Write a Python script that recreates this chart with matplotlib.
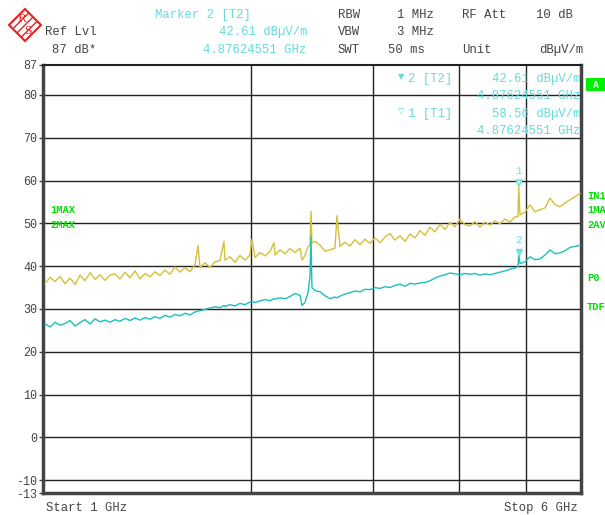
import matplotlib
matplotlib.use('Agg')
import matplotlib.pyplot as plt
from matplotlib.patches import Polygon, Rectangle

# sweep points (GHz) shared by both traces
freq_ghz = [1.007, 1.024, 1.041, 1.058, 1.076, 1.094, 1.113, 1.131, 1.150, 1.170,
            1.189, 1.209, 1.229, 1.250, 1.271, 1.292, 1.314, 1.336, 1.359, 1.381,
            1.405, 1.428, 1.452, 1.476, 1.501, 1.526, 1.552, 1.578, 1.605, 1.632,
            1.659, 1.676, 1.687, 1.715, 1.744, 1.773, 1.803, 1.827, 1.833, 1.864,
            1.895, 1.927, 1.960, 1.992, 2.006, 2.026, 2.060, 2.095, 2.130, 2.158,
            2.165, 2.202, 2.239, 2.276, 2.315, 2.354, 2.369, 2.393, 2.417, 2.433,
            2.441, 2.449, 2.474, 2.516, 2.558, 2.601, 2.644, 2.662, 2.689, 2.734,
            2.780, 2.827, 2.874, 2.922, 2.971, 3.021, 3.072, 3.124, 3.176, 3.229,
            3.284, 3.339, 3.395, 3.452, 3.510, 3.569, 3.629, 3.690, 3.752, 3.815,
            3.879, 3.944, 4.010, 4.077, 4.146, 4.215, 4.286, 4.358, 4.431, 4.506,
            4.581, 4.658, 4.736, 4.816, 4.864, 4.876, 4.897, 4.979, 5.063, 5.148,
            5.234, 5.322, 5.411, 5.502, 5.595, 5.689, 5.784, 5.881, 5.980]

# trace 1: max hold (dBuV/m)
trace1 = [36.0, 37.4, 36.4, 37.6, 35.9, 37.2, 35.7, 37.9, 36.6, 38.5,
          36.9, 38.0, 36.7, 37.9, 38.2, 37.0, 38.6, 37.3, 38.9, 37.0,
          38.3, 37.5, 38.7, 37.8, 39.1, 38.1, 39.8, 38.6, 39.6, 38.7,
          40.4, 44.8, 39.6, 40.8, 39.7, 41.0, 41.3, 45.8, 41.4, 42.2,
          40.9, 42.5, 41.4, 42.6, 46.3, 42.0, 43.2, 42.4, 43.4, 45.5,
          42.6, 43.8, 42.9, 44.1, 43.2, 44.2, 41.4, 42.5, 44.6, 45.0,
          52.8, 45.4, 45.8, 44.9, 43.5, 43.8, 44.2, 51.8, 44.6, 45.6,
          44.7, 46.2, 45.0, 46.3, 45.3, 46.6, 45.5, 46.8, 47.6, 46.1,
          47.1, 45.8, 47.5, 46.6, 48.3, 47.2, 49.1, 48.0, 49.8, 48.6,
          50.2, 49.2, 51.0, 49.7, 49.4, 50.4, 49.1, 50.3, 49.6, 50.6,
          49.9, 51.0, 50.3, 51.5, 51.6, 58.56, 52.0, 52.6, 54.3, 52.7,
          53.2, 53.6, 55.9, 54.4, 53.9, 54.8, 55.5, 56.2, 57.0]

# trace 2: average (dBuV/m)
trace2 = [26.5, 25.8, 26.9, 26.2, 26.6, 27.3, 26.0, 26.8, 27.5, 26.5,
          27.7, 27.0, 27.4, 26.9, 27.5, 27.1, 27.8, 27.3, 27.9, 27.4,
          28.0, 27.6, 28.2, 27.8, 28.5, 28.1, 28.7, 28.4, 29.0, 28.6,
          29.3, 29.5, 29.6, 29.9, 30.2, 30.5, 30.3, 30.8, 30.6, 31.0,
          30.7, 31.3, 31.0, 31.6, 31.8, 31.5, 31.9, 32.2, 31.9, 32.4,
          32.3, 32.6, 32.4, 32.9, 33.6, 33.2, 30.8, 31.5, 33.8, 37.5,
          46.9, 35.0, 34.3, 34.0, 33.1, 32.4, 32.8, 32.6, 33.0, 33.5,
          33.8, 34.2, 34.0, 34.6, 34.5, 35.0, 34.8, 35.2, 35.0, 35.5,
          35.8, 35.3, 36.0, 35.8, 36.1, 36.2, 36.6, 37.2, 37.7, 38.0,
          38.4, 38.2, 38.0, 38.3, 38.1, 38.3, 37.9, 38.2, 38.0, 38.3,
          38.6, 38.9, 39.3, 39.6, 39.9, 42.61, 40.6, 41.0, 42.2, 41.5,
          41.7, 42.6, 43.8, 42.9, 43.1, 43.6, 44.4, 44.6, 44.9]

y_ticks = [-13, -10, 0, 10, 20, 30, 40, 50, 60, 70, 80, 87]
x_grid = [2, 3, 4, 5]
marker_freq = 4.87624551
marker_levels = [58.56, 42.61]

W, H = 605, 515
fig = plt.figure(figsize=(W / 100, H / 100), dpi=100)
fig.patch.set_facecolor('white')
ax = fig.add_axes([43 / W, 1 - 493 / H, 538 / W, 428 / H])

mono = 'Liberation Mono'
grey = '#444444'
cyan_txt = '#66DADA'
green = '#00E000'

def ftext(x, y, s, **kw):
    kw.setdefault('family', mono)
    kw.setdefault('fontsize', 8.8)
    kw.setdefault('color', grey)
    kw.setdefault('va', 'center')
    fig.text(x / W, 1 - y / H, s, **kw)

ax.set_xscale('log')
ax.set_xlim(1, 6)
ax.set_ylim(-13, 87)

for yv in y_ticks[1:-1]:
    ax.axhline(yv, color='#222222', lw=1.0, zorder=1)
for xv in x_grid:
    ax.axvline(xv, color='#222222', lw=1.0, zorder=1)

ax.plot(freq_ghz, trace1, color='#D6BF3A', lw=1.0, zorder=3)
ax.plot(freq_ghz, trace2, color='#1CBFC0', lw=1.0, zorder=3)

# markers
ax.plot([marker_freq], [marker_levels[0] + 0.8], marker='v', ms=5, mfc='white',
        mec='#70E0E0', mew=1.2, zorder=5)
ax.plot([marker_freq], [marker_levels[1] + 0.8], marker='v', ms=5, color='#70E0E0', zorder=5)
ax.text(marker_freq, marker_levels[0] + 3.6, '1', color='#70E0E0', family=mono,
        fontsize=8, ha='center', va='center')
ax.text(marker_freq, marker_levels[1] + 3.6, '2', color='#70E0E0', family=mono,
        fontsize=8, ha='center', va='center')

ax.set_xticks([])
ax.set_xticks([], minor=True)
ax.set_yticks(y_ticks)
ax.set_yticklabels([str(v) for v in y_ticks], family=mono, fontsize=8.5, color=grey)
ax.tick_params(axis='y', length=3, width=1, color=grey, pad=1)
for side in ['left', 'bottom', 'right']:
    ax.spines[side].set_linewidth(2.5)
    ax.spines[side].set_color('#444444')
ax.spines['top'].set_linewidth(1.5)
ax.spines['top'].set_color('#222222')

# R&S logo
cx, cy, r = 25, 25, 16
pts = [((cx) / W, 1 - (cy - r) / H), ((cx + r) / W, 1 - cy / H),
       (cx / W, 1 - (cy + r) / H), ((cx - r) / W, 1 - cy / H)]
logo = Polygon(pts, closed=True, transform=fig.transFigure,
               facecolor='white', edgecolor='#E82020', lw=1.5, hatch='////')
fig.patches.append(logo)
ftext(22, 19, 'R', color='#E82020', fontsize=8, ha='center', family='DejaVu Serif')
ftext(28, 31, 'S', color='#E82020', fontsize=8, ha='center', family='DejaVu Serif')

# header
ftext(155, 15, 'Marker 2 [T2]', color=cyan_txt)
ftext(45, 32, 'Ref Lvl')
ftext(308, 32, '42.61 dB\u00b5V/m', color=cyan_txt, ha='right')
ftext(52, 50, '87 dB*')
ftext(306, 50, '4.87624551 GHz', color=cyan_txt, ha='right')
ftext(338, 15, 'RBW')
ftext(434, 15, '1 MHz', ha='right')
ftext(462, 15, 'RF Att')
ftext(573, 15, '10 dB', ha='right')
ftext(338, 32, 'VBW')
ftext(434, 32, '3 MHz', ha='right')
ftext(338, 50, 'SWT')
ftext(425, 50, '50 ms', ha='right')
ftext(462, 50, 'Unit')
ftext(583, 50, 'dB\u00b5V/m', ha='right')

# marker info block
ftext(398, 77, '\u25bc', color=cyan_txt, fontsize=6, family='DejaVu Sans')
ftext(408, 79, '2 [T2]', color=cyan_txt)
ftext(580, 79, '42.61 dB\u00b5V/m', color=cyan_txt, ha='right')
ftext(580, 96, '4.87624551 GHz', color=cyan_txt, ha='right')
ftext(398, 110, '\u25bd', color=cyan_txt, fontsize=6, family='DejaVu Sans')
ftext(408, 114, '1 [T1]', color=cyan_txt)
ftext(580, 114, '58.56 dB\u00b5V/m', color=cyan_txt, ha='right')
ftext(580, 131, '4.87624551 GHz', color=cyan_txt, ha='right')

# side labels
ftext(50, 210, '1MAX', color=green, fontsize=7.5, weight='bold')
ftext(50, 225, '2MAX', color=green, fontsize=7.5, weight='bold')
fig.patches.append(Rectangle((586 / W, 1 - 91 / H), 19 / W, 13 / H,
                             transform=fig.transFigure, facecolor='#00F000', edgecolor='none'))
ftext(596, 85, 'A', color='white', fontsize=7, ha='center', weight='bold')
ftext(587, 196, 'IN1', color=green, fontsize=7.5, weight='bold')
ftext(587, 210, '1MA', color=green, fontsize=7.5, weight='bold')
ftext(587, 225, '2AV', color=green, fontsize=7.5, weight='bold')
ftext(587, 278, 'P0', color=green, fontsize=7.5, weight='bold')
ftext(587, 307, 'TDF', color=green, fontsize=7.5, weight='bold')

# footer
ftext(46, 508, 'Start 1 GHz')
ftext(578, 508, 'Stop 6 GHz', ha='right')

fig.savefig('out.png', dpi=100, facecolor='white')
